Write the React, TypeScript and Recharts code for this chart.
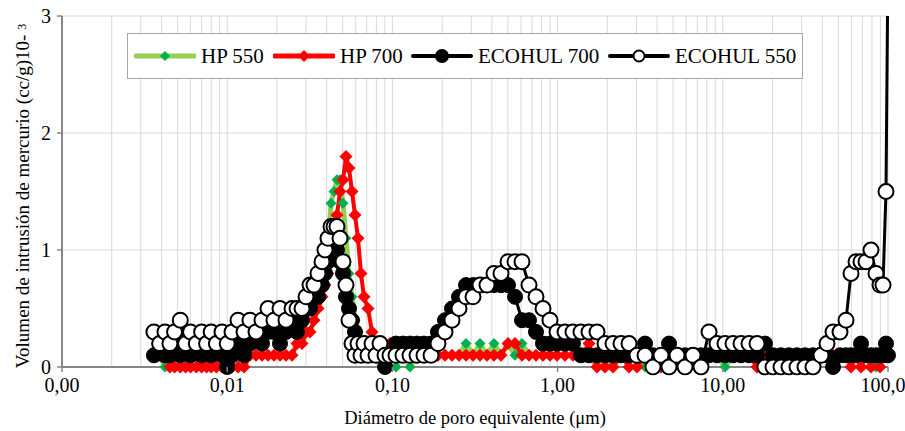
import { LineChart, Line, XAxis, YAxis, CartesianGrid, Legend } from "recharts";

// Diámetro de poro (µm): puntos comunes a las cuatro curvas
const diameters = [
  0.0036, 0.0039, 0.0042, 0.0045, 0.0048, 0.0052, 0.0056, 0.006, 0.0065, 0.007, 0.0075, 0.008, 0.0086, 0.0093, 0.01,
  0.01069, 0.01163, 0.01264, 0.01374, 0.01494, 0.01624, 0.01766, 0.0192, 0.02087, 0.02269, 0.02468,
  0.02646, 0.02837, 0.03, 0.03172, 0.03354, 0.03546, 0.03749, 0.03908, 0.04075,
  0.0425, 0.04431, 0.04619, 0.04817, 0.05023, 0.05237, 0.05461, 0.05694, 0.05937, 0.06191,
  0.06454, 0.0673, 0.07118, 0.07525, 0.07957, 0.08413, 0.09022, 0.09672,
  0.1051, 0.1159, 0.1278, 0.1409, 0.1553, 0.1713, 0.1888, 0.2082, 0.2295, 0.253, 0.279, 0.3076,
  0.3391, 0.3738, 0.4121, 0.4544, 0.501, 0.5523, 0.6089, 0.6713, 0.74, 0.8159, 0.8995, 0.9917,
  1.109, 1.239, 1.385, 1.549, 1.732, 1.936, 2.165, 2.42, 2.706, 3.025,
  3.382, 3.781, 4.227, 4.725, 5.284, 5.907, 6.602, 7.381, 8.253, 9.224,
  10.31, 11.53, 12.89, 14.41, 16.11, 18.0, 20.14, 22.51, 25.16, 28.13,
  31.45, 35.16, 39.3, 42.74, 46.47, 51.23, 55.7, 59.7, 64.03, 68.63,
  73.59, 78.9, 84.6, 89.46, 93.27, 97.25, 100,
];

const hp550 = [
  0.1, 0.1, 0, 0, 0, 0, 0, 0, 0, 0, 0, 0, 0, 0, 0,
  0, 0, 0, 0.1, 0.1, 0.1, 0.1, 0.1, 0.1, 0.1, 0.1,
  0.2, 0.2, 0.3, 0.3, 0.4, 0.5, 0.6, 0.8, 1.0,
  1.4, 1.5, 1.6, 1.6, 1.4, 1.1, 0.8, 0.6, 0.4, 0.3,
  0.2, 0.1, 0.1, 0.1, 0.1, 0.1, 0.1, 0,
  0, 0.1, 0, 0.1, 0.1, 0.1, 0.1, 0.1, 0.1, 0.1, 0.2, 0.1,
  0.2, 0.1, 0.2, 0.1, 0.2, 0.1, 0.2, 0.1, 0.1, 0.1, 0.1, 0.1,
  0.1, 0.1, 0.1, 0.1, 0, 0.1, 0, 0.1, 0.1, 0.1,
  0, 0.1, 0.1, 0.1, 0.1, 0.1, 0.1, 0.1, 0.1, 0.1,
  0, 0.1, 0.1, 0.1, 0.1, 0.1, 0.1, 0, 0.1, 0.1,
  0.1, 0.1, 0.1, 0.1, 0.1, 0.1, 0.1, 0.1, 0.1, 0,
  0.1, 0.1, 0, 0.1, 0.1, 0.1, 0.1,
];

const hp700 = [
  0.1, 0.1, 0.1, 0, 0, 0, 0, 0, 0, 0, 0, 0, 0, 0, 0,
  0, 0, 0, 0.1, 0.1, 0.1, 0.1, 0.1, 0.1, 0.1, 0.1,
  0.2, 0.2, 0.3, 0.3, 0.4, 0.5, 0.6, 0.7, 0.8,
  0.9, 1.1, 1.3, 1.5, 1.6, 1.8, 1.7, 1.5, 1.3, 1.1,
  0.8, 0.6, 0.5, 0.3, 0.2, 0.1, 0.1, 0.2,
  0.2, 0.1, 0.2, 0.1, 0.1, 0.1, 0.1, 0.1, 0.1, 0.1, 0.1, 0.1,
  0.1, 0.1, 0.1, 0.1, 0.2, 0.2, 0.1, 0.1, 0.1, 0.1, 0.1, 0.1,
  0.1, 0.1, 0.1, 0.2, 0, 0, 0, 0.1, 0, 0,
  0.1, 0, 0, 0.1, 0.1, 0.1, 0.1, 0, 0.1, 0.1,
  0.1, 0.1, 0.1, 0.1, 0, 0.1, 0.1, 0.1, 0.1, 0.1,
  0.1, 0.1, 0.1, 0.1, 0.1, 0.1, 0.1, 0, 0.1, 0,
  0.1, 0, 0.1, 0, 0.1, 0.1, 0.1,
];

const ecohul700 = [
  0.1, 0.2, 0.1, 0.1, 0.2, 0.1, 0.2, 0.1, 0.2, 0.1, 0.2, 0.1, 0.2, 0.1, 0,
  0.1, 0.2, 0.1, 0.2, 0.3, 0.2, 0.3, 0.3, 0.2, 0.3, 0.4,
  0.3, 0.4, 0.5, 0.5, 0.6, 0.6, 0.7, 0.8, 0.9,
  1.0, 1.1, 1.0, 0.9, 0.8, 0.6, 0.5, 0.4, 0.3, 0.2,
  0.2, 0.1, 0.1, 0.1, 0.1, 0.1, 0, 0.1,
  0.2, 0.2, 0.2, 0.2, 0.2, 0.2, 0.3, 0.4, 0.5, 0.6, 0.7, 0.7,
  0.7, 0.7, 0.7, 0.7, 0.7, 0.6, 0.4, 0.4, 0.3, 0.2, 0.2, 0.2,
  0.2, 0.2, 0.1, 0.1, 0.1, 0.1, 0.1, 0.1, 0.1, 0.1,
  0.2, 0.1, 0.1, 0.2, 0.1, 0.1, 0.1, 0.1, 0.1, 0.1,
  0.1, 0.1, 0.1, 0.1, 0.1, 0.2, 0.1, 0.1, 0.1, 0.1,
  0.1, 0.1, 0.1, 0.1, 0, 0.1, 0.1, 0.1, 0.1, 0.2,
  0.1, 0.1, 0.1, 0.1, 0.1, 0.2, 0.1,
];

// el último punto queda por encima del eje (> 3)
const ecohul550 = [
  0.3, 0.2, 0.3, 0.2, 0.3, 0.4, 0.2, 0.3, 0.2, 0.3, 0.2, 0.3, 0.2, 0.3, 0.2,
  0.3, 0.4, 0.3, 0.4, 0.3, 0.4, 0.5, 0.4, 0.5, 0.4, 0.5,
  0.5, 0.5, 0.6, 0.7, 0.7, 0.8, 0.9, 1.0, 1.1,
  1.2, 1.2, 1.2, 1.1, 0.9, 0.7, 0.4, 0.2, 0.1, 0.2,
  0.1, 0.2, 0.1, 0.2, 0.1, 0.2, 0.1, 0.1,
  0.1, 0.1, 0.1, 0.1, 0.1, 0.1, 0.2, 0.3, 0.4, 0.5, 0.6, 0.6,
  0.7, 0.7, 0.8, 0.8, 0.9, 0.9, 0.9, 0.7, 0.6, 0.5, 0.4, 0.3,
  0.3, 0.3, 0.3, 0.3, 0.3, 0.2, 0.2, 0.2, 0.2, 0.1,
  0.1, 0, 0.1, 0, 0.1, 0, 0.1, 0, 0.3, 0.2,
  0.2, 0.2, 0.2, 0.2, 0.2, 0, 0, 0, 0, 0,
  0, 0, 0.1, 0.2, 0.3, 0.3, 0.4, 0.8, 0.9, 0.9,
  0.9, 1.0, 0.8, 0.7, 0.7, 1.5, 3.5,
];

const majorTicks = [0.001, 0.01, 0.1, 1, 10, 100];
const minorSteps = [2, 3, 4, 5, 6, 7, 8, 9];
const yTicks = [0, 1, 2, 3];

const gridTicks = majorTicks.flatMap((m, i) =>
  i < majorTicks.length - 1 ? [m, ...minorSteps.map((s) => Number((m * s).toPrecision(3)))] : [m]
);

const data = diameters.map((d, i) => ({
  d,
  hp550: hp550[i],
  hp700: hp700[i],
  ecohul700: ecohul700[i],
  ecohul550: ecohul550[i],
}));

const FONT = "'Liberation Serif', 'Times New Roman', Times, serif";
const AXIS = "#868686";

const diamond = (fill: string, r: number) => (props: any) => {
  const { cx, cy, index } = props;
  if (cx == null || cy == null) return <g key={`dot-${index}`} />;
  return (
    <path
      key={`dot-${index}`}
      d={`M${cx},${cy - r}L${cx + r},${cy}L${cx},${cy + r}L${cx - r},${cy}Z`}
      fill={fill}
    />
  );
};

const XTick = (props: any) => {
  const { x, y, payload } = props;
  const v = payload.value;
  if (!majorTicks.includes(v)) return <g />;
  return (
    <g>
      <line x1={x} y1={y - 8} x2={x} y2={y - 3} stroke={AXIS} strokeWidth={1.5} />
      <text x={x} y={y + 17} textAnchor="middle" fontFamily={FONT} fontSize={20} fill="#000">
        {v.toFixed(2).replace(".", ",")}
      </text>
    </g>
  );
};

const legendItems = [
  { name: "HP 550", left: 6, line: "#92D050", w: 5, kind: "diamond", fill: "#00B050", r: 5 },
  { name: "HP 700", left: 145, line: "#FF0000", w: 5, kind: "diamond", fill: "#FF0000", r: 6 },
  { name: "ECOHUL 700", left: 283, line: "#000", w: 4, kind: "circle", fill: "#000", r: 6 },
  { name: "ECOHUL 550", left: 480, line: "#000", w: 4, kind: "circle", fill: "#fff", r: 5.5 },
];

const LegendBox = () => (
  <div
    style={{
      position: "relative",
      width: 676,
      height: 46,
      boxSizing: "border-box",
      border: "1px solid #A6A6A6",
      background: "#fff",
      fontFamily: FONT,
      fontSize: 21,
      color: "#000",
      whiteSpace: "nowrap",
    }}
  >
    {legendItems.map((it) => (
      <div
        key={it.name}
        style={{ position: "absolute", left: it.left, top: 0, height: 44, display: "flex", alignItems: "center" }}
      >
        <svg width={62} height={20} style={{ display: "block" }}>
          <line x1={2} y1={10} x2={60} y2={10} stroke={it.line} strokeWidth={it.w} strokeLinecap="round" />
          {it.kind === "diamond" ? (
            <path d={`M31,${10 - it.r}L${31 + it.r},10L31,${10 + it.r}L${31 - it.r},10Z`} fill={it.fill} />
          ) : (
            <circle cx={31} cy={10} r={it.r} fill={it.fill} stroke="#000" strokeWidth={2} />
          )}
        </svg>
        <span style={{ marginLeft: 5 }}>{it.name}</span>
      </div>
    ))}
  </div>
);

const YTitle = () => (
  <text
    x={22}
    y={196}
    transform="rotate(-90, 22, 196)"
    textAnchor="middle"
    dominantBaseline="central"
    fontFamily={FONT}
    fontSize={19}
    fill="#000"
  >
    Volumen de intrusión de mercurio (cc/g)10- <tspan fontSize={12}>3</tspan>
  </text>
);

const XTitle = () => (
  <text x={475} y={424} textAnchor="middle" fontFamily={FONT} fontSize={18.5} fill="#000">
    Diámetro de poro equivalente (μm)
  </text>
);

export default function App() {
  return (
    <div style={{ width: 905, height: 431, background: "#fff" }}>
      <style>{"body{margin:0}"}</style>
      <LineChart width={905} height={431} data={data} margin={{ top: 16, right: 17, bottom: 0, left: 0 }}>
        <CartesianGrid yAxisId="main" stroke="#D9D9D9" strokeWidth={1} />
        <XAxis
          dataKey="d"
          type="number"
          scale="log"
          domain={[0.001, 100]}
          ticks={gridTicks}
          interval={0}
          height={64}
          tickSize={5}
          tickMargin={3}
          tickLine={false}
          axisLine={{ stroke: AXIS, strokeWidth: 2 }}
          tick={<XTick />}
          label={() => <XTitle />}
        />
        <YAxis
          yAxisId="main"
          orientation="left"
          type="number"
          domain={[0, 3]}
          ticks={yTicks}
          allowDataOverflow
          width={62}
          tickSize={5}
          tickMargin={6}
          axisLine={{ stroke: AXIS, strokeWidth: 2 }}
          tickLine={{ stroke: AXIS, strokeWidth: 1.5 }}
          tick={{ fontFamily: FONT, fontSize: 20, fill: "#000" }}
          label={() => <YTitle />}
        />
        <YAxis yAxisId="hp" orientation="right" type="number" domain={[0, 3]} width={0} hide />
        <Legend
          layout="horizontal"
          verticalAlign="middle"
          align="center"
          wrapperStyle={{ left: 127, top: 33, width: 676, height: 46 }}
          content={() => <LegendBox />}
        />
        <Line
          yAxisId="hp"
          dataKey="hp550"
          name="HP 550"
          type="linear"
          stroke="#92D050"
          strokeWidth={5}
          strokeLinejoin="round"
          dot={diamond("#00B050", 5.5)}
          activeDot={false}
          isAnimationActive={false}
        />
        <Line
          yAxisId="hp"
          dataKey="hp700"
          name="HP 700"
          type="linear"
          stroke="#FF0000"
          strokeWidth={4}
          strokeLinejoin="round"
          dot={diamond("#FF0000", 6.5)}
          activeDot={false}
          isAnimationActive={false}
        />
        <Line
          yAxisId="main"
          dataKey="ecohul700"
          name="ECOHUL 700"
          type="linear"
          stroke="#000"
          strokeWidth={3}
          strokeLinejoin="round"
          dot={{ r: 7.5, fill: "#000", stroke: "#000", strokeWidth: 1, clipDot: false }}
          activeDot={false}
          isAnimationActive={false}
        />
        <Line
          yAxisId="main"
          dataKey="ecohul550"
          name="ECOHUL 550"
          type="linear"
          stroke="#000"
          strokeWidth={3}
          strokeLinejoin="round"
          dot={{ r: 7.5, fill: "#fff", stroke: "#000", strokeWidth: 2, clipDot: false }}
          activeDot={false}
          isAnimationActive={false}
        />
      </LineChart>
    </div>
  );
}
